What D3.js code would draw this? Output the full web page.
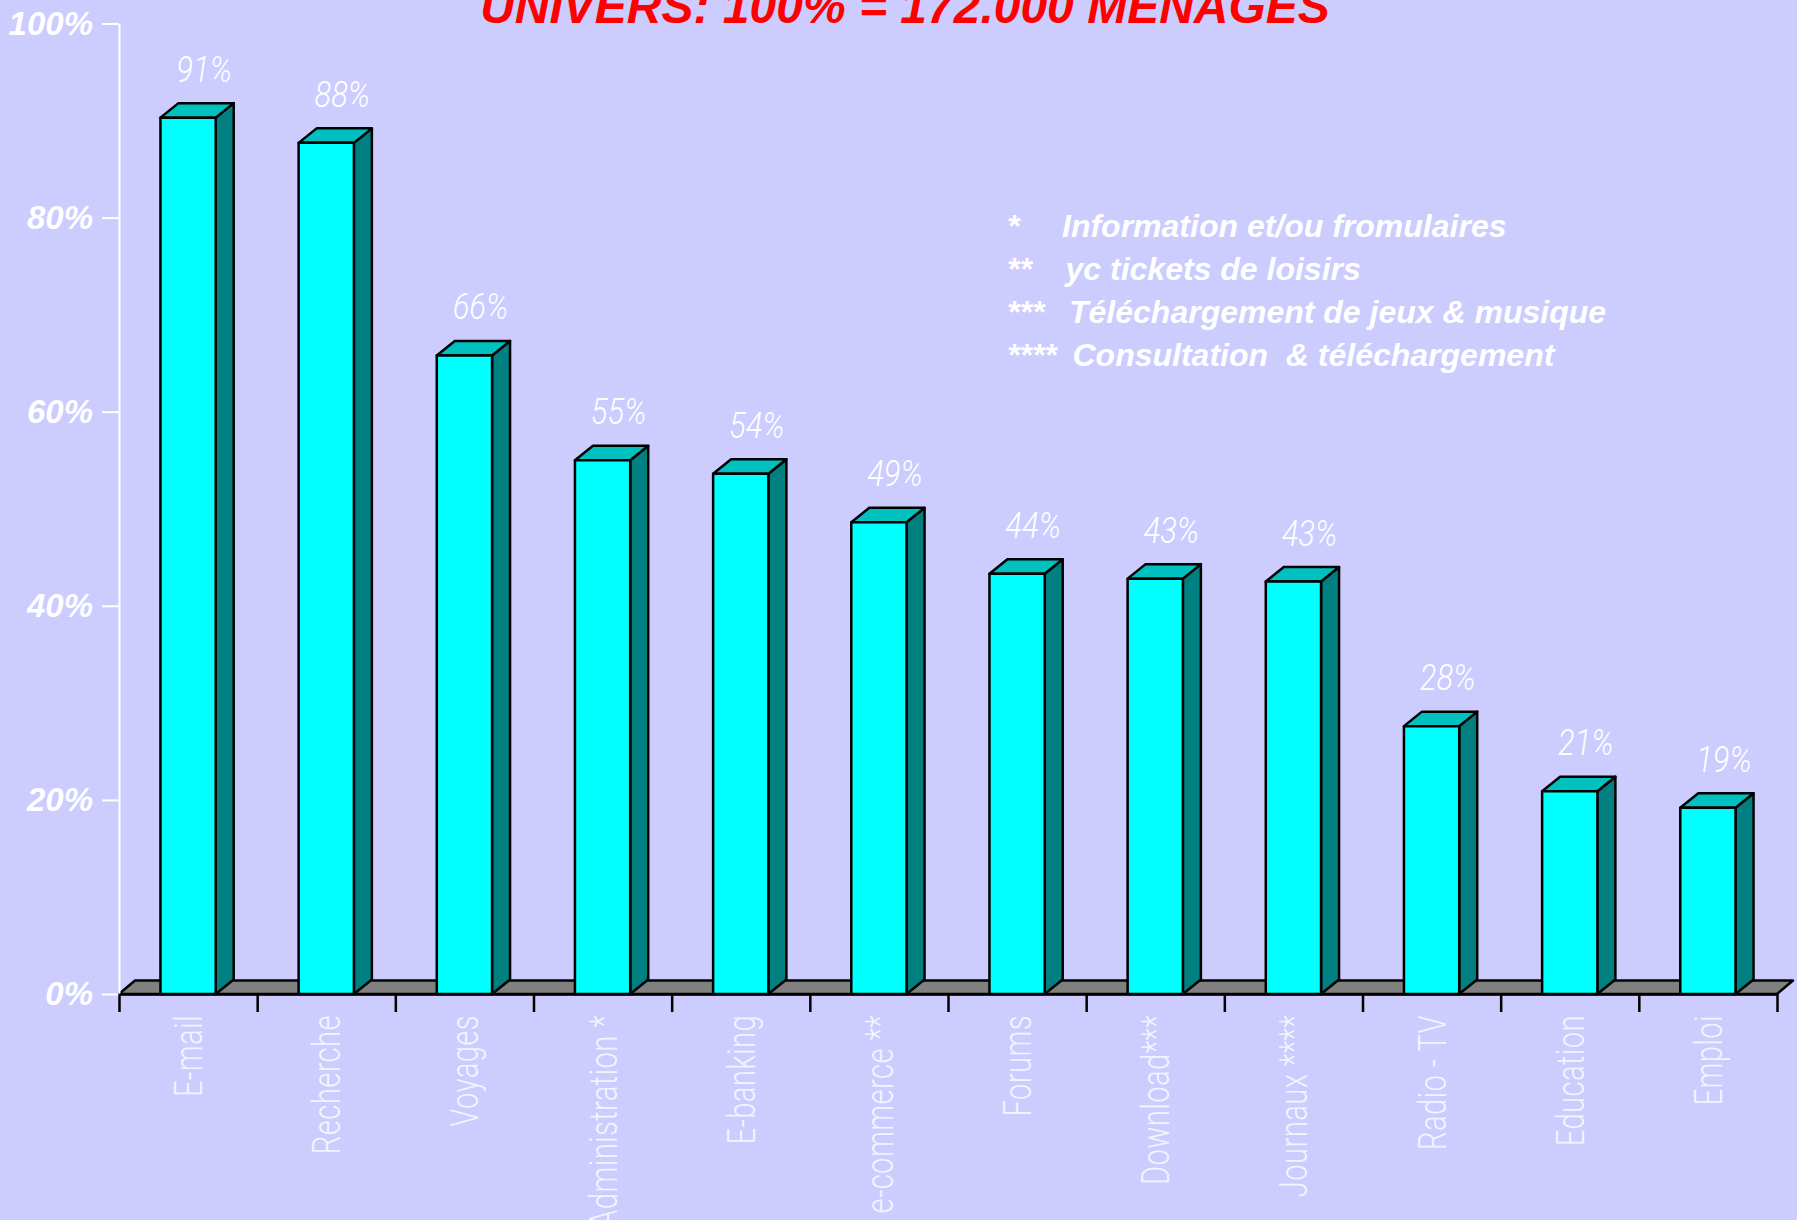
<!DOCTYPE html>
<html>
<head>
<meta charset="utf-8">
<script src="https://cdn.jsdelivr.net/npm/d3@7"></script>
<style>
  body { margin: 0; background: #ccccff; }
  svg { display: block; }
</style>
</head>
<body>
<div id="chart"></div>
<script>
// chart data
const categories = ["E-mail", "Recherche", "Voyages", "Administration *", "E-banking", "e-commerce **",
  "Forums", "Download***", "Journaux ****", "Radio - TV", "Education", "Emploi"];
const values = [90.3, 87.7, 65.8, 55.0, 53.6, 48.6, 43.3, 42.8, 42.5, 27.6, 20.9, 19.2];
const valueLabels = ["91%", "88%", "66%", "55%", "54%", "49%", "44%", "43%", "43%", "28%", "21%", "19%"];
const yTicks = [0, 20, 40, 60, 80, 100];
const noteMarks = ["*", "**", "***", "****"];
const noteTexts = ["Information et/ou fromulaires", "yc tickets de loisirs",
  "Téléchargement de jeux & musique", "Consultation  & téléchargement"];
const title = "UNIVERS: 100% = 172.000 MENAGES";

window.onload = () => {
  var width = 1797, height = 1220;
  var left = 119, right = 1777, base = 994, top = 23.5;
  var dx = 18, dy = 14.5;       // bar depth
  var fdx = 16, fdy = 13.5;     // floor depth

  var svg = d3.select("#chart")
    .append("svg")
    .attr("width", width)
    .attr("height", height);

  svg.append("rect")
    .attr("width", width)
    .attr("height", height)
    .attr("fill", "#ccccff");

  // scales
  const x = d3.scaleBand()
    .domain(categories)
    .range([left, right])
    .paddingInner(0.6)
    .paddingOuter(0.3);

  const y = d3.scaleLinear()
    .domain([0, 100])
    .range([base, top]);

  const xTick = d3.scaleLinear()
    .domain([0, categories.length])
    .range([left, right]);

  // title (cut at the top like the original)
  svg.append("text")
    .attr("x", 905)
    .attr("y", 23)
    .attr("text-anchor", "middle")
    .style("font-family", "'Liberation Sans', Arial, sans-serif")
    .style("font-weight", "bold")
    .style("font-style", "italic")
    .style("font-size", "48px")
    .attr("fill", "#ff0000")
    .text(title);

  // floor
  svg.append("path")
    .attr("d", `M${left},${base}L${right},${base}L${right + fdx},${base - fdy}L${left + fdx},${base - fdy}Z`)
    .attr("fill", "#808080")
    .attr("stroke", "#000")
    .attr("stroke-width", 2.5)
    .attr("stroke-linejoin", "round");

  // y axis
  var yaxis = svg.append("g")
    .attr("transform", `translate(${left},0)`)
    .call(d3.axisLeft(y).tickValues(yTicks).tickSize(17).tickSizeOuter(0).tickPadding(9)
      .tickFormat(d => d + "%"));

  yaxis.select(".domain").attr("stroke", "#fff").attr("stroke-width", 2);
  yaxis.selectAll(".tick line").attr("stroke", "#fff").attr("stroke-width", 2);
  yaxis.selectAll(".tick text")
    .attr("fill", "#fff")
    .style("font-family", "'Liberation Sans', Arial, sans-serif")
    .style("font-weight", "bold")
    .style("font-style", "italic")
    .style("font-size", "33px");

  // x axis ticks between categories
  var xaxis = svg.append("g")
    .attr("transform", `translate(0,${base})`)
    .call(d3.axisBottom(xTick).tickValues(d3.range(categories.length + 1)).tickSize(18)
      .tickSizeOuter(0).tickFormat(""));

  xaxis.select(".domain").attr("stroke", "#000").attr("stroke-width", 2.5);
  xaxis.selectAll(".tick line").attr("stroke", "#000").attr("stroke-width", 2.5);

  // 3d bars
  var bars = svg.selectAll(".bar")
    .data(categories)
    .join("g")
    .attr("class", "bar");

  bars.append("path")   // side
    .attr("d", (d, i) => {
      var x1 = x(d) + x.bandwidth(), yt = y(values[i]);
      return `M${x1},${yt}L${x1 + dx},${yt - dy}L${x1 + dx},${base - dy}L${x1},${base}Z`;
    })
    .attr("fill", "#008080");

  bars.append("path")   // top
    .attr("d", (d, i) => {
      var x0 = x(d), x1 = x0 + x.bandwidth(), yt = y(values[i]);
      return `M${x0},${yt}L${x0 + dx},${yt - dy}L${x1 + dx},${yt - dy}L${x1},${yt}Z`;
    })
    .attr("fill", "#00c0c0");

  bars.append("rect")   // front
    .attr("x", d => x(d))
    .attr("y", (d, i) => y(values[i]))
    .attr("width", x.bandwidth())
    .attr("height", (d, i) => base - y(values[i]))
    .attr("fill", "#00ffff");

  bars.selectAll("path, rect")
    .attr("stroke", "#000")
    .attr("stroke-width", 2.5)
    .attr("stroke-linejoin", "round");

  // value labels
  svg.selectAll(".vlabel")
    .data(categories)
    .join("text")
    .attr("class", "vlabel")
    .attr("transform", (d, i) => `translate(${x(d) + x.bandwidth() / 2 + 16},${y(values[i]) - 36}) scale(0.86,1)`)
    .attr("text-anchor", "middle")
    .style("font-family", "Roboto, 'Liberation Sans', sans-serif")
    .style("font-weight", 300)
    .style("font-style", "italic")
    .style("font-size", "36px")
    .attr("fill", "#fff")
    .text((d, i) => valueLabels[i]);

  // category labels, rotated
  svg.selectAll(".clabel")
    .data(categories)
    .join("text")
    .attr("class", "clabel")
    .attr("transform", d => `translate(${x(d) + x.bandwidth() / 2},1015) rotate(-90) scale(0.75,1)`)
    .attr("text-anchor", "end")
    .attr("dy", "0.36em")
    .style("font-family", "Roboto, 'Liberation Sans', sans-serif")
    .style("font-weight", 300)
    .style("font-size", "39px")
    .style("letter-spacing", "0.5px")
    .attr("fill", "#f4f4ff")
    .text(d => d);

  // footnotes
  var notes = svg.selectAll(".note")
    .data(noteTexts)
    .join("g")
    .attr("class", "note")
    .attr("transform", (d, i) => `translate(0,${237 + i * 43})`)
    .style("font-family", "'Liberation Sans', Arial, sans-serif")
    .style("font-weight", "bold")
    .style("font-style", "italic")
    .style("font-size", "32px")
    .attr("fill", "#fff");

  notes.append("text")
    .attr("x", 1007)
    .text((d, i) => noteMarks[i]);

  notes.append("text")
    .attr("x", (d, i) => 1062 + i * 3.5)
    .style("white-space", "pre")
    .text(d => d);
};
</script>
</body>
</html>
